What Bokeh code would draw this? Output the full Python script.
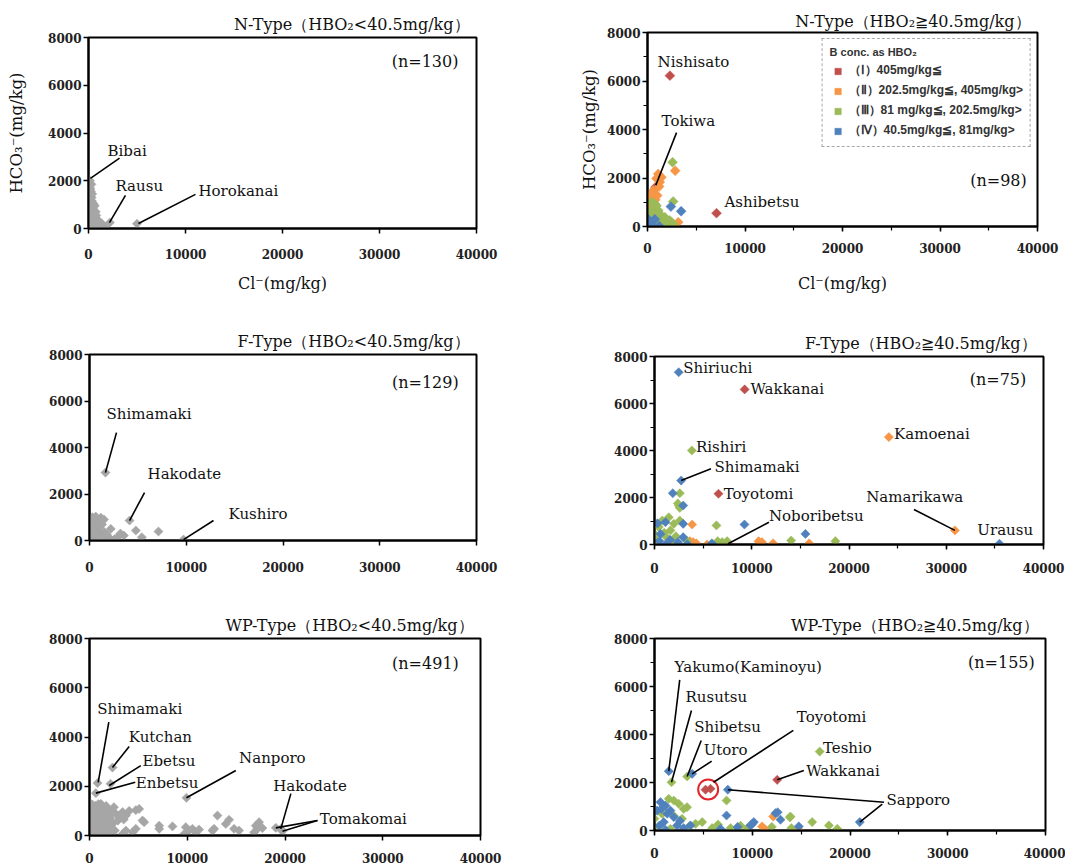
import numpy as np
from bokeh.plotting import figure
from bokeh.layouts import column, row
from bokeh.models import Range1d, SingleIntervalTicker, Legend, LegendItem
from bokeh.core.properties import value
from bokeh.embed import file_html
from bokeh.resources import INLINE

SERIF = "DejaVu Serif"
SANS = "Liberation Sans"
GRAY = "#a6a6a6"
C_I, C_II, C_III, C_IV = "#c0504d", "#f79646", "#9bbb59", "#4f81bd"

# ---------------- Panel 1: N-Type (HBO2<40.5) ----------------
n1_x = [150, 300, 120, 50, 250, 380, 200, 100, 350, 500, 300, 150, 450, 650, 250, 100, 750, 400,
        550, 200, 850, 350, 650, 950, 500, 1150, 300, 750, 1300, 900, 150, 1500, 1200, 450, 1700,
        2200, 5000, 50, 600, 200, 1000, 1400, 80, 200, 320, 150, 420, 260, 60, 600, 800, 1100]
n1_y = [2000, 1850, 1700, 1600, 1550, 1450, 1350, 1250, 1150, 1050, 950, 900, 850, 950, 750, 650,
        700, 600, 500, 450, 400, 350, 300, 250, 200, 200, 150, 100, 150, 80, 50, 100, 30, 20, 60,
        250, 200, 300, 30, 100, 40, 200, 1800, 1650, 1300, 1200, 1000, 800, 500, 600, 550, 300]
n1_lab = ["Bibai", "Rausu", "Horokanai"]
n1_lab_x = [1960, 2780, 11340]
n1_lab_y = [3240, 1770, 1560]
n1_ln_x0 = [200, 2160, 5150]
n1_ln_y0 = [2100, 250, 210]
n1_ln_x1 = [3200, 3810, 11030]
n1_ln_y1 = [2950, 1390, 1430]

# ---------------- Panel 2: N-Type (HBO2>=40.5) ----------------
n2_I_x = [820, 2300, 7080]
n2_I_y = [1620, 6220, 550]
n2_II_x = [2840, 3150, 1100, 920, 1260, 580, 410, 1000, 240, 750, 1100, 1950, 920, 1430, 1200, 510,
           800, 300, 600, 1400, 2500]
n2_II_y = [2300, 180, 2170, 1980, 1830, 1480, 1210, 1280, 860, 660, 250, 180, 420, 2030, 1650, 1350,
           1100, 1000, 50, 100, 50]
n2_III_x = [2570, 2630, 410, 750, 240, 1260, 1780, 2290, 580, 1100, 1610, 2630, 100, 920, 1430, 500,
            1000, 300, 1500, 2000, 800]
n2_III_y = [2650, 1030, 1000, 935, 520, 520, 380, 250, 250, 660, 110, 110, 180, 860, 320, 700, 400,
            100, 50, 30, 200]
n2_IV_x = [2400, 3450, 0, 400, 1200, 750, 200]
n2_IV_y = [820, 630, 330, 60, 20, 300, 150]
n2_lab = ["Nishisato", "Tokiwa", "Ashibetsu"]
n2_lab_x = [1030, 1440, 7900]
n2_lab_y = [6800, 4330, 1030]
n2_ln_x0 = [850]
n2_ln_y0 = [1700]
n2_ln_x1 = [2980]
n2_ln_y1 = [3870]

# ---------------- Panel 3: F-Type (HBO2<40.5) ----------------
f1_x = [1650, 4140, 9720, 2200, 2900, 3550, 4790, 5410, 7130, 650, 1170, 0, 400, 1300, 200, 900,
        1530, 0, 650, 1460, 1980, 830, 100, 2300, 1170, 300, 500, 800, 1000, 1500, 200, 600, 1800,
        1200, 400, 2600, 3200, 100, 350, 700, 1000, 250]
f1_y = [2920, 860, 40, 500, 140, 215, 430, 140, 387, 1030, 980, 900, 760, 690, 500, 430, 360, 215,
        140, 70, 140, 0, 0, 0, 215, 1000, 600, 800, 550, 900, 300, 350, 250, 100, 50, 60, 300,
        650, 400, 200, 750, 850]
f1_lab = ["Shimamaki", "Hakodate", "Kushiro"]
f1_lab_x = [1760, 6000, 14370]
f1_lab_y = [5460, 2840, 1120]
f1_ln_x0 = [1650, 4140, 9720]
f1_ln_y0 = [2920, 860, 40]
f1_ln_x1 = [2790, 5690, 12820]
f1_ln_y1 = [4640, 2060, 860]

# ---------------- Panel 4: F-Type (HBO2>=40.5) ----------------
f2_I_x = [9270, 6580, 7560]
f2_I_y = [6600, 2160, 30]
f2_II_x = [24100, 30890, 3870, 1990, 3630, 3970, 4300, 5400, 10700, 11050, 12200, 15900, 1500]
f2_II_y = [4570, 600, 850, 0, 140, 100, 50, 0, 140, 100, 50, 50, 50]
f2_III_x = [3840, 2600, 2500, 2600, 2400, 6370, 1470, 800, 1990, 2600, 440, 1640, 1230, 2000, 300,
            3360, 6500, 6960, 7470, 14050, 18600, 100, 1000, 2200]
f2_III_y = [4000, 2180, 1660, 1560, 1750, 810, 1160, 1020, 880, 1020, 740, 600, 310, 170, 100,
            150, 140, 100, 140, 170, 140, 400, 500, 350]
f2_IV_x = [2490, 2740, 35470, 1880, 2950, 9250, 15520, 1130, 2950, 620, 2950, 1130, 2400, 5900,
           3360, 300, 1600, 500]
f2_IV_y = [7330, 2720, 30, 2180, 1660, 850, 450, 950, 880, 450, 310, 0, 100, 50, 20, 900, 200, 150]
f2_lab = ["Shiriuchi", "Wakkanai", "Kamoenai", "Rishiri", "Shimamaki", "Toyotomi", "Namarikawa",
          "Urausu", "Noboribetsu"]
f2_lab_x = [2950, 9870, 24640, 4270, 6170, 7120, 21770, 33200, 11770]
f2_lab_y = [7500, 6600, 4710, 4140, 3290, 2160, 2010, 600, 1230]
f2_ln_x0 = [2740, 30890, 7560]
f2_ln_y0 = [2720, 600, 30]
f2_ln_x1 = [5810, 26680, 11770]
f2_ln_y1 = [3220, 1490, 950]

# ---------------- Panel 5: WP-Type (HBO2<40.5) ----------------
w1_x = [100, 300, 600, 900, 1160, 200, 500, 800, 1100, 1400, 1700, 100, 400, 700, 1000, 1300, 1600,
        1900, 200, 500, 900, 1200, 1500, 1800, 100, 400, 700, 1000, 1400, 1700, 2000, 200, 600, 900,
        1300, 1600, 1900, 100, 500, 800, 1100, 1500, 2000, 2300, 2500, 2200,
        0, 250, 450, 750, 1050, 1350, 1650, 0, 300, 550, 850, 1150, 1450, 1750, 50, 350, 650, 950,
        1250, 1550, 0, 250, 550, 850, 1150, 1450, 1750, 2100, 2400, 2600,
        2700, 3380, 4060, 4740, 5080, 3720, 3040, 2900, 3500,
        5420, 5590, 7130, 8490, 7130, 3720, 4400, 3380, 4740, 9850, 10190, 10530, 10870, 11210, 9680,
        12580, 12750, 13090, 13940, 14280, 14790, 15300, 17010, 17180, 16840, 17690, 17350, 19060,
        19740, 820, 650, 2350, 2150, 9920, 19570]
w1_y = [1300, 1250, 1200, 1280, 1290, 1100, 1050, 1100, 1000, 1150, 1200, 900, 850, 950, 800, 900,
        950, 1050, 700, 650, 700, 600, 750, 800, 500, 450, 500, 400, 450, 550, 600, 300, 250, 300,
        200, 300, 350, 100, 80, 50, 100, 60, 100, 900, 1150, 400,
        1150, 1000, 1180, 1000, 1150, 1050, 1100, 750, 800, 900, 820, 880, 700, 650, 600, 550, 650,
        580, 700, 500, 300, 380, 420, 450, 350, 250, 300, 700, 500, 200,
        880, 950, 1000, 1030, 1080, 810, 740, 600, 650,
        610, 540, 400, 370, 270, 200, 130, 60, 270, 340, 200, 270, 130, 240, 60,
        200, 270, 810, 470, 640, 270, 200, 400, 270, 130, 300, 540, 310,
        170, 2130, 1720, 2760, 2100, 1530, 270]
w1_lab = ["Shimamaki", "Kutchan", "Ebetsu", "Enbetsu", "Nanporo", "Hakodate", "Tomakomai"]
w1_lab_x = [790, 4020, 5420, 4740, 15300, 18790, 23560]
w1_lab_y = [5140, 3990, 3030, 2150, 3130, 2030, 680]
w1_ln_x0 = [890, 2350, 2020, 650, 9920, 20600, 23320, 23320]
w1_ln_y0 = [2160, 2760, 2030, 1720, 1530, 1700, 610, 610]
w1_ln_x1 = [1975, 4060, 5250, 4680, 14970, 19570, 19060, 19740]
w1_ln_y1 = [4600, 3610, 2840, 2160, 2640, 270, 310, 170]

# ---------------- Panel 6: WP-Type (HBO2>=40.5) ----------------
w2_I_x = [5220, 5730, 12550]
w2_I_y = [1700, 1740, 2110]
w2_II_x = [12140, 11250, 14760, 11000]
w2_II_y = [580, 70, 30, 170]
w2_III_x = [1740, 3340, 7370, 16900, 13910, 16130, 17840, 18700, 8800, 7780, 5900, 4880, 4200, 1460,
            1970, 2480, 780, 2990, 2820, 0, 1630, 440, 3330, 13840, 1000, 2000, 3500, 6500, 9500,
            12000, 14000]
w2_III_y = [2010, 2250, 1250, 3290, 580, 350, 210, 70, 200, 100, 100, 350, 280, 1320, 1250, 1110,
            690, 900, 490, 490, 70, 170, 970, 550, 1000, 600, 150, 250, 100, 150, 100]
w2_IV_x = [1460, 3850, 7500, 7370, 21000, 12380, 12890, 14760, 10160, 9820, 6760, 3680, 610, 1120,
           270, 1630, 1970, 950, 2310, 1120, 2990, 10000, 12600, 700, 1300, 500, 2600, 8500]
w2_IV_y = [2470, 2360, 1700, 625, 350, 720, 450, 170, 350, 210, 70, 210, 1180, 1040, 830, 830, 560,
           350, 210, 30, 100, 280, 760, 900, 700, 200, 400, 150]
w2_lab = ["Yakumo(Kaminoyu)", "Rusutsu", "Shibetsu", "Utoro", "Toyotomi", "Teshio", "Wakkanai",
          "Sapporo"]
w2_lab_x = [2050, 3170, 4070, 5030, 14560, 17230, 15520, 23730]
w2_lab_y = [6810, 5560, 4310, 3360, 4720, 3430, 2500, 1280]
w2_ln_x0 = [1460, 1740, 3340, 3850, 6040, 12550, 7500, 21000]
w2_ln_y0 = [2470, 2010, 2250, 2360, 2010, 2110, 1700, 350]
w2_ln_x1 = [2580, 3780, 4780, 5850, 14200, 15280, 23480, 23300]
w2_ln_y1 = [6280, 5000, 3750, 2890, 4170, 2500, 1180, 1100]
w2_circle_x = [5490]
w2_circle_y = [1710]

legend_labels = ["\uff08\u2160\uff09405mg/kg\u2266", "\uff08\u2161\uff09202.5mg/kg\u2266, 405mg/kg>",
                 "\uff08\u2162\uff0981 mg/kg\u2266, 202.5mg/kg>", "\uff08\u2163\uff0940.5mg/kg\u2266, 81mg/kg>"]
n_labels = ["(n=130)", "(n=98)", "(n=129)", "(n=75)", "(n=491)", "(n=155)"]
n_x = [38140, 38900, 38160, 38230, 37780, 38900]
n_y = [6990, 1900, 6800, 7020, 7000, 7000]

TITLES = ["N-Type\uff08HBO\u2082<40.5mg/kg\uff09", "N-Type\uff08HBO\u2082\u226740.5mg/kg\uff09",
          "F-Type\uff08HBO\u2082<40.5mg/kg\uff09", "F-Type\uff08HBO\u2082\u226740.5mg/kg\uff09",
          "WP-Type\uff08HBO\u2082<40.5mg/kg\uff09", "WP-Type\uff08HBO\u2082\u226740.5mg/kg\uff09"]
X_LABEL = "Cl\u207b(mg/kg)"
Y_LABEL = "HCO\u2083\u207b(mg/kg)"


def make_fig(w, h, bl, br, bt, bb, title, minor, labels, xstand, ystand_lab, xstand_lab, tstand=7):
    p = figure(width=w, height=h, x_range=Range1d(0, 40000), y_range=Range1d(0, 8000),
               output_backend="svg", toolbar_location=None, title=title,
               min_border_left=bl, min_border_right=br, min_border_top=bt, min_border_bottom=bb)
    p.grid.visible = False
    p.outline_line_color = "black"
    p.outline_line_width = 2
    p.background_fill_color = "white"
    p.border_fill_color = "white"
    p.title.align = "right"
    p.title.offset = 7
    p.title.text_font = SERIF
    p.title.text_font_size = "16px"
    p.title.text_font_style = "normal"
    p.title.text_color = "#111111"
    p.title.standoff = tstand
    p.xaxis.ticker = SingleIntervalTicker(interval=10000, num_minor_ticks=2 if minor else 0)
    p.yaxis.ticker = SingleIntervalTicker(interval=2000, num_minor_ticks=2 if minor else 0)
    for ax in (p.xaxis[0], p.yaxis[0]):
        ax.axis_line_width = 2
        ax.axis_line_color = "black"
        ax.major_tick_line_width = 1.5
        ax.major_tick_in = 0
        ax.major_tick_out = 5
        ax.minor_tick_in = 0
        ax.minor_tick_out = 4
        ax.minor_tick_line_width = 1.2
        if not minor:
            ax.minor_tick_line_color = None
        ax.major_label_text_font = SERIF
        ax.major_label_text_font_size = "12px"
        ax.major_label_text_font_style = "bold"
        ax.major_label_text_color = "#222222"
        ax.axis_label_text_font = SERIF
        ax.axis_label_text_font_style = "normal"
        ax.axis_label_text_color = "#111111"
    p.xaxis.major_label_standoff = xstand
    p.yaxis.major_label_standoff = 2
    if labels:
        p.xaxis.axis_label = X_LABEL
        p.yaxis.axis_label = Y_LABEL
        p.xaxis.axis_label_text_font_size = "16px"
        p.yaxis.axis_label_text_font_size = "16.5px"
        p.xaxis.axis_label_standoff = xstand_lab
        p.yaxis.axis_label_standoff = ystand_lab
    return p


def pts(p, x, y, color, size=6.5):
    return p.scatter(x=x, y=y, marker="square", angle=np.pi / 4, size=size,
                     fill_color=color, line_color=color, line_width=0.5)


def annot(p, lx, ly, lt, x0, y0, x1, y1, nidx):
    p.segment(x0=x0, y0=y0, x1=x1, y1=y1, line_color="black", line_width=1.6)
    p.text(x=lx, y=ly, text=lt, text_font=value(SERIF), text_font_size="15px",
           text_baseline="middle", text_align="left", text_color="#111111")
    p.text(x=[n_x[nidx]], y=[n_y[nidx]], text=[n_labels[nidx]], text_font=value(SERIF),
           text_font_size="16px", text_baseline="middle", text_align="right", text_color="#111111")


# Top row
p1 = make_fig(520, 300, 88, 44, 37, 72, TITLES[0], False, True, 15, 19, 12)
pts(p1, n1_x, n1_y, GRAY)
annot(p1, n1_lab_x, n1_lab_y, n1_lab, n1_ln_x0, n1_ln_y0, n1_ln_x1, n1_ln_y1, 0)

p2 = make_fig(545, 300, 127, 28, 32, 74, TITLES[1], True, True, 11, 5, 18, tstand=3)
r_I = pts(p2, n2_I_x, n2_I_y, C_I, 7)
r_II = pts(p2, n2_II_x, n2_II_y, C_II, 7)
r_III = pts(p2, n2_III_x, n2_III_y, C_III, 7)
r_IV = pts(p2, n2_IV_x, n2_IV_y, C_IV, 7)
annot(p2, n2_lab_x, n2_lab_y, n2_lab, n2_ln_x0, n2_ln_y0, n2_ln_x1, n2_ln_y1, 1)
legend = Legend(items=[LegendItem(label=legend_labels[0], renderers=[r_I]),
                       LegendItem(label=legend_labels[1], renderers=[r_II]),
                       LegendItem(label=legend_labels[2], renderers=[r_III]),
                       LegendItem(label=legend_labels[3], renderers=[r_IV])],
                location="top_right", title="B conc. as HBO\u2082")
legend.margin = 6
legend.padding = 7
legend.spacing = 3
legend.label_height = 16
legend.glyph_height = 16
legend.glyph_width = 16
legend.label_standoff = 3
legend.label_text_font = SANS
legend.label_text_font_size = "12px"
legend.label_text_font_style = "bold"
legend.label_text_color = "#333333"
legend.title_text_font = SANS
legend.title_text_font_size = "11px"
legend.title_text_font_style = "bold"
legend.title_text_color = "#333333"
legend.title_standoff = 4
legend.border_line_color = "#555555"
legend.border_line_width = 1.5
legend.border_line_dash = "5 3"
legend.background_fill_alpha = 1.0
p2.add_layout(legend)

# Middle row
p3 = make_fig(520, 290, 89, 44, 54, 50, TITLES[2], False, False, 16, 0, 0)
pts(p3, f1_x, f1_y, GRAY)
annot(p3, f1_lab_x, f1_lab_y, f1_lab, f1_ln_x0, f1_ln_y0, f1_ln_x1, f1_ln_y1, 2)

p4 = make_fig(545, 290, 134, 22, 56, 46, TITLES[3], True, False, 13, 0, 0)
pts(p4, f2_I_x, f2_I_y, C_I)
pts(p4, f2_II_x, f2_II_y, C_II)
pts(p4, f2_III_x, f2_III_y, C_III)
pts(p4, f2_IV_x, f2_IV_y, C_IV)
annot(p4, f2_lab_x, f2_lab_y, f2_lab, f2_ln_x0, f2_ln_y0, f2_ln_x1, f2_ln_y1, 3)

# Bottom row
p5 = make_fig(520, 278, 89, 40, 48, 33, TITLES[4], False, False, 12, 0, 0)
pts(p5, w1_x, w1_y, GRAY)
annot(p5, w1_lab_x, w1_lab_y, w1_lab, w1_ln_x0, w1_ln_y0, w1_ln_x1, w1_ln_y1, 4)

p6 = make_fig(545, 278, 134, 20, 48, 38, TITLES[5], True, False, 12, 0, 0)
pts(p6, w2_I_x, w2_I_y, C_I)
pts(p6, w2_II_x, w2_II_y, C_II)
pts(p6, w2_III_x, w2_III_y, C_III)
pts(p6, w2_IV_x, w2_IV_y, C_IV)
p6.scatter(x=w2_circle_x, y=w2_circle_y, marker="circle", size=20, fill_color=None,
           line_color="#e0262b", line_width=2)
annot(p6, w2_lab_x, w2_lab_y, w2_lab, w2_ln_x0, w2_ln_y0, w2_ln_x1, w2_ln_y1, 5)

# wrap each plot in its own column so that rows do not align the plot frames
layout = column(row(column(p1), column(p2)),
                row(column(p3), column(p4)),
                row(column(p5), column(p6)))
open("out.html", "w").write(file_html(layout, INLINE))
